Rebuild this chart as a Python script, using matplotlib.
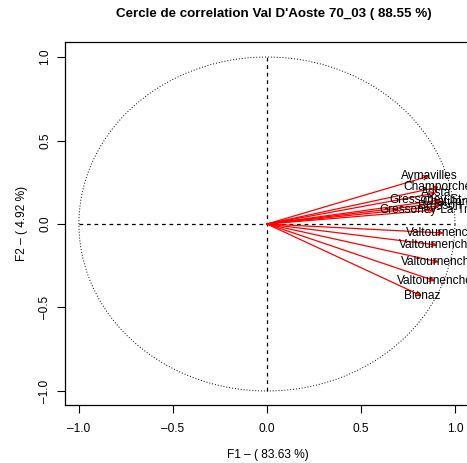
import numpy as np
import matplotlib.pyplot as plt

plt.rcParams['font.family'] = ['Liberation Sans', 'DejaVu Sans']

# station loadings on F1 / F2
stations = ['Aymavilles', 'Champorcher', 'Aosta', 'Gressoney-St-Jean', 'Chatillon',
            'Brusson', 'Gressoney-La-Trinite', 'Valtournenche', 'Valtournenche',
            'Valtournenche', 'Valtournenche', 'Bionaz']
f1 = [0.862, 0.915, 0.90, 0.925, 0.95, 0.92, 0.894, 0.94, 0.905, 0.915, 0.894, 0.824]
f2 = [0.287, 0.222, 0.186, 0.144, 0.13, 0.108, 0.084, -0.054, -0.126, -0.228, -0.341, -0.431]

ticks = [-1.0, -0.5, 0.0, 0.5, 1.0]
tick_labels = [('%.1f' % v).replace('-', '\u2013') for v in ticks]

fig = plt.figure(figsize=(4.67, 4.63), dpi=100)
ax = fig.add_axes([65 / 467, 58 / 463, 405 / 467, 363 / 463])

# circle of radius 1
t = np.linspace(0, 2 * np.pi, 400)
ax.plot(np.cos(t), np.sin(t), linestyle=(0, (1, 2)), color='black', lw=0.7)
ax.plot([-1, 1], [0, 0], linestyle=(0, (3, 3)), color='black', lw=0.9)
ax.plot([0, 0], [-1, 1], linestyle=(0, (3, 3)), color='black', lw=0.9)

for name, x, y in zip(stations, f1, f2):
    ax.annotate('', xy=(x, y), xytext=(0, 0),
                arrowprops=dict(arrowstyle='->', color='red', lw=0.9,
                                mutation_scale=8, shrinkA=0, shrinkB=0))
    ax.text(x, y, name, ha='center', va='center', fontsize=8.6, clip_on=False)

ax.set_xlim(-1.074, 1.08)
ax.set_ylim(-1.084, 1.09)
ax.set_xticks(ticks)
ax.set_yticks(ticks)
ax.set_xticklabels(tick_labels, fontsize=8.6)
ax.set_yticklabels(tick_labels, fontsize=8.6, rotation=90, va='center')
ax.tick_params(axis='x', length=6, width=0.8, pad=7)
ax.tick_params(axis='y', length=6, width=0.8, pad=4)
for s in ax.spines.values():
    s.set_linewidth(0.9)

ax.set_xlabel('F1 \u2013 ( 83.63 %)', fontsize=8.6, labelpad=10)
ax.set_ylabel('F2 \u2013 ( 4.92 %)', fontsize=8.6, labelpad=8)
fig.text(274 / 467, 1 - 14 / 463, "Cercle de correlation Val D'Aoste 70_03 ( 88.55 %)",
         ha='center', va='center', fontsize=9.6, fontweight='bold')

fig.savefig('out.png', dpi=100)
